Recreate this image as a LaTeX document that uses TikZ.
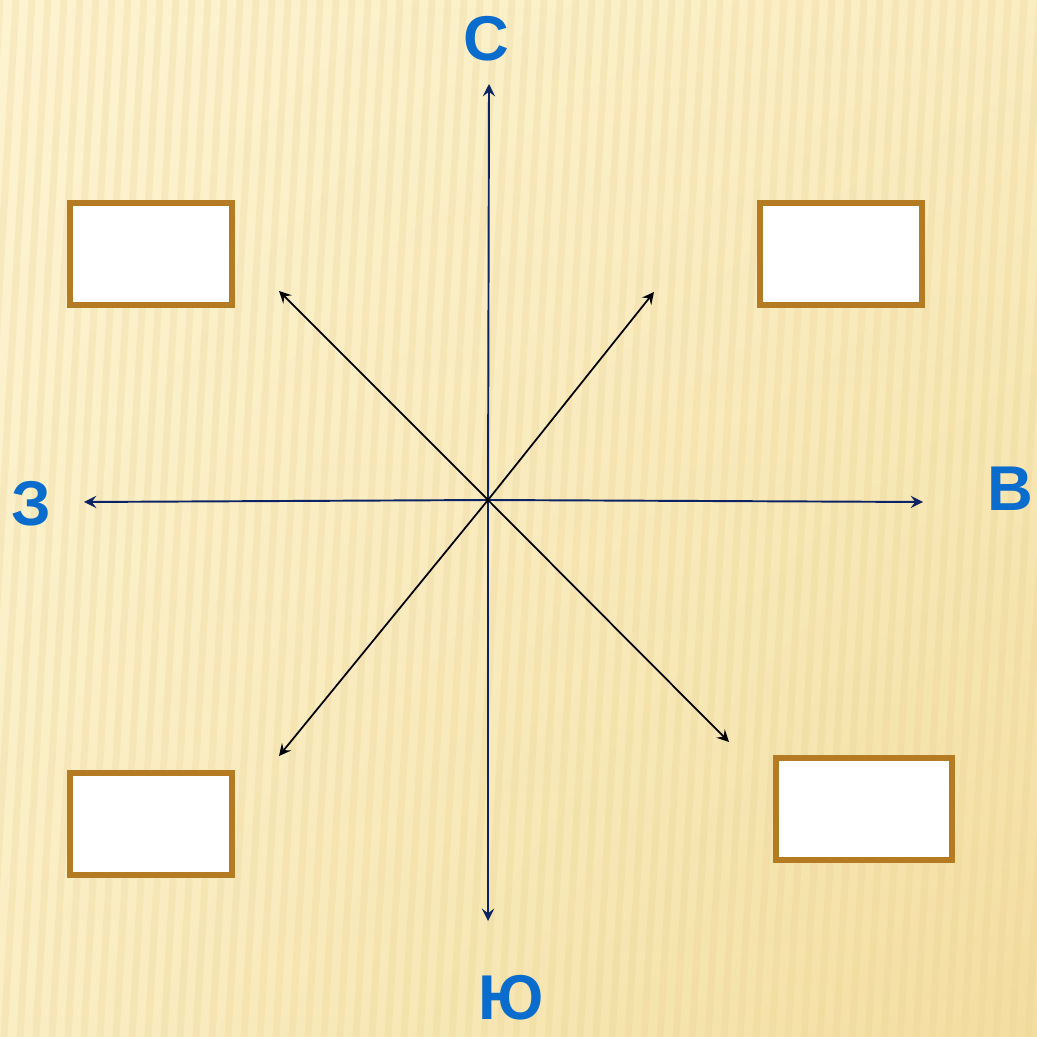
\documentclass[tikz,border=0pt]{standalone}
\usepackage{fontspec}
\setmainfont{Liberation Sans}
\usepackage{tikz}
\usetikzlibrary{shadings}
\definecolor{PaperLight}{RGB}{253, 243, 208}
\definecolor{PaperDark}{RGB}{243, 222, 160}
\definecolor{StripeTan}{RGB}{232, 205, 140}
\definecolor{AxisNavy}{RGB}{12, 36, 100}
\definecolor{LabelBlue}{RGB}{10, 108, 204}
\definecolor{FrameBrown}{RGB}{180, 123, 34}

\begin{document}
\begin{tikzpicture}[x=0.01cm, y=-0.01cm, >=stealth]
          \tikzset{
            axis/.style={AxisNavy, line width=0.55pt, ->},
            diag/.style={black, line width=0.5pt, ->},
            side/.style={text=LabelBlue, font=\fontsize{18}{21}\selectfont\bfseries, inner sep=0pt},
            blank/.style={draw=FrameBrown, line width=1.5pt, fill=white, inner sep=0pt,
                          minimum width=1.62cm, minimum height=1.02cm}
          }
          % background
          \shade[upper left=PaperLight, upper right=PaperLight!70!PaperDark,
                 lower left=PaperLight!75!PaperDark, lower right=PaperDark]
                (0,0) rectangle (1037,1037);
          \clip (0,0) rectangle (1037,1037);
          \foreach \i in {0,16,...,1160}
            \draw[StripeTan, opacity=0.22, line width=2pt] (\i,0) -- (\i-60,1037);
          \useasboundingbox (0,0) rectangle (1037,1037);
          % compass
          \coordinate (o) at (488,500);
          \coordinate (n) at (489,84);
          \coordinate (s) at (488,921);
          \coordinate (w) at (84,502);
          \coordinate (e) at (923,502);
          \coordinate (nw) at (279,291);
          \coordinate (ne) at (654,292);
          \coordinate (sw) at (279,756);
          \coordinate (se) at (729,742);
          \draw[axis] (o) -- (n);
          \draw[axis] (o) -- (s);
          \draw[axis] (o) -- (w);
          \draw[axis] (o) -- (e);
          \draw[diag] (o) -- (nw);
          \draw[diag] (o) -- (ne);
          \draw[diag] (o) -- (sw);
          \draw[diag] (o) -- (se);
          \node[side] (lblN) at (486,39) {С};
          \node[side] (lblS) at (511,998) {Ю};
          \node[side] (lblW) at (31,504) {З};
          \node[side] (lblE) at (1010,489) {В};
          % empty boxes
          \node[blank] (boxNW) at (151,254) {};
          \node[blank] (boxNE) at (841,254) {};
          \node[blank] (boxSW) at (151,824) {};
          \node[blank, minimum width=1.76cm] (boxSE) at (864,809) {};
        \end{tikzpicture}
\end{document}
